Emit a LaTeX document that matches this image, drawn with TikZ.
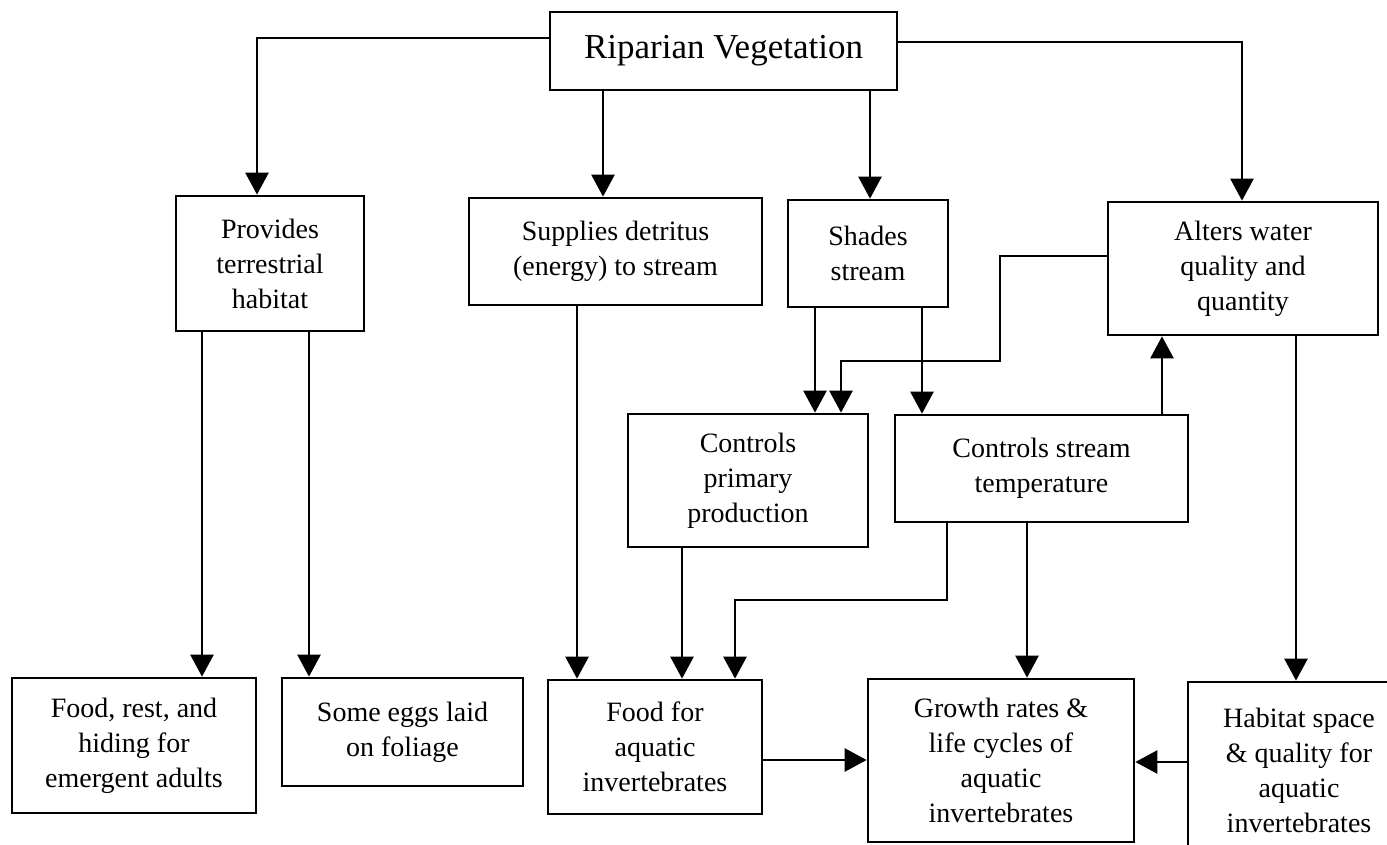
\documentclass[tikz,border=0pt]{standalone}
\usepackage{fontspec}
\setmainfont{Liberation Serif}
\usetikzlibrary{arrows.meta}
\begin{document}
\begin{tikzpicture}[x=1pt,y=-1pt,
  box/.style={draw,line width=2.7pt,inner sep=0pt,align=center,font=\fontsize{28}{35}\selectfont},
  arr/.style={line width=2.6pt,-{Triangle[length=22pt,width=23pt]}}]
\clip (0,0) rectangle (1387,844);
\fill[white] (0,0) rectangle (1387,844);
% nodes
\node[box,minimum width=347pt,minimum height=78pt,font=\fontsize{35}{40}\selectfont] (rv) at (723.5,51) {Riparian Vegetation};
\node[box,minimum width=188pt,minimum height=135pt] (prov) at (270,263.5) {Provides\\terrestrial\\habitat};
\node[box,minimum width=293pt,minimum height=107pt] (sup) at (615.5,251.5) {Supplies detritus\\(energy) to stream};
\node[box,minimum width=160pt,minimum height=107pt] (sha) at (868,253.5) {Shades\\stream};
\node[box,minimum width=270pt,minimum height=133pt] (alt) at (1243,268.5) {Alters water\\quality and\\quantity};
\node[box,minimum width=240pt,minimum height=133pt] (cpp) at (748,480.5) {Controls\\primary\\production};
\node[box,minimum width=293pt,minimum height=107pt] (cst) at (1041.5,468.5) {Controls stream\\temperature};
\node[box,minimum width=244pt,minimum height=135pt] (frest) at (134,745.5) {Food, rest, and\\hiding for\\emergent adults};
\node[box,minimum width=241pt,minimum height=108pt] (eggs) at (402.5,732) {Some eggs laid\\on foliage};
\node[box,minimum width=214pt,minimum height=134pt] (faq) at (655,747) {Food for\\aquatic\\invertebrates};
\node[box,minimum width=266pt,minimum height=163pt] (grow) at (1001,760.5) {Growth rates \&\\life cycles of\\aquatic\\invertebrates};
\node[box,minimum width=222pt,minimum height=176pt] (hab) at (1299,770) {Habitat space\\\& quality for\\aquatic\\invertebrates};
% connectors
\draw[arr] (rv.west |- 0,38) -| (prov.north -| 257,0);
\draw[arr] (rv.east |- 0,42) -| (alt.north -| 1242,0);
\draw[arr] (rv.south -| 603,0) -- (sup.north -| 603,0);
\draw[arr] (rv.south -| 870,0) -- (sha.north -| 870,0);
\draw[arr] (prov.south -| 202,0) -- (frest.north -| 202,0);
\draw[arr] (prov.south -| 309,0) -- (eggs.north -| 309,0);
\draw[arr] (sup.south -| 577,0) -- (faq.north -| 577,0);
\draw[arr] (sha.south -| 815,0) -- (cpp.north -| 815,0);
\draw[arr] (sha.south -| 922,0) -- (cst.north -| 922,0);
\draw[arr] (alt.west |- 0,256) -| (1000,361) -| (cpp.north -| 841,0);
\draw[arr] (cst.north -| 1162,0) -- (alt.south -| 1162,0);
\draw[arr] (cpp.south -| 682,0) -- (faq.north -| 682,0);
\draw[arr] (cst.south -| 947,0) |- (735,600) -- (faq.north -| 735,0);
\draw[arr] (cst.south -| 1027,0) -- (grow.north -| 1027,0);
\draw[arr] (alt.south -| 1296,0) -- (hab.north -| 1296,0);
\draw[arr] (faq.east |- 0,760) -- (grow.west |- 0,760);
\draw[arr] (hab.west |- 0,762) -- (grow.east |- 0,762);
\end{tikzpicture}
\end{document}
